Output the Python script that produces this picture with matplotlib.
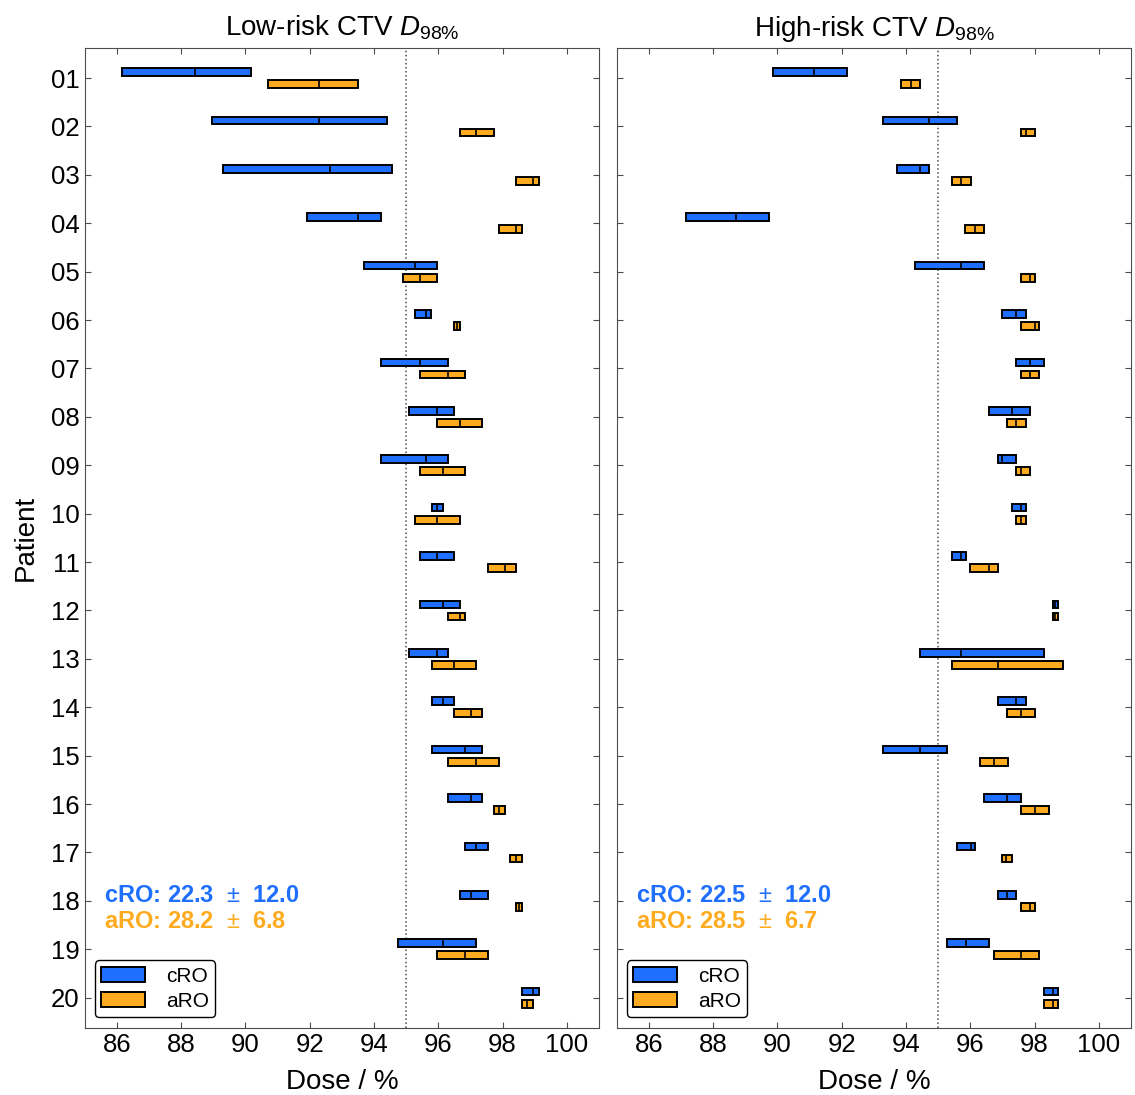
import numpy as np
import matplotlib
matplotlib.use('Agg')
import matplotlib.pyplot as plt
from matplotlib.patches import Patch

plt.rcParams['font.family'] = ['Liberation Sans', 'DejaVu Sans']
plt.rcParams['mathtext.fontset'] = 'custom'
plt.rcParams['mathtext.rm'] = 'Liberation Sans'
plt.rcParams['mathtext.it'] = 'Liberation Sans:italic'
plt.rcParams['mathtext.bf'] = 'Liberation Sans:bold'

patients = ['01', '02', '03', '04', '05', '06', '07', '08', '09', '10',
            '11', '12', '13', '14', '15', '16', '17', '18', '19', '20']

# low-risk CTV D98%: min / median / max
low_cro_min = [86.15, 88.95, 89.30, 91.92, 93.68, 95.27, 94.21, 95.08, 94.21, 95.79,
               95.43, 95.43, 95.08, 95.79, 95.79, 96.31, 96.84, 96.67, 94.74, 98.59]
low_cro_med = [88.42, 92.29, 92.63, 93.51, 95.27, 95.61, 95.43, 95.96, 95.61, 95.96,
               95.96, 96.14, 95.96, 96.14, 96.84, 97.02, 97.18, 97.02, 96.14, 98.94]
low_cro_max = [90.18, 94.39, 94.56, 94.21, 95.96, 95.78, 96.31, 96.49, 96.31, 96.14,
               96.49, 96.67, 96.31, 96.49, 97.37, 97.37, 97.54, 97.54, 97.18, 99.12]
low_aro_min = [90.70, 96.67, 98.42, 97.89, 94.91, 96.49, 95.43, 95.96, 95.43, 95.27,
               97.54, 96.31, 95.79, 96.49, 96.31, 97.72, 98.24, 98.42, 95.96, 98.59]
low_aro_med = [92.29, 97.18, 98.94, 98.43, 95.44, 96.58, 96.31, 96.67, 96.14, 95.96,
               98.06, 96.67, 96.49, 97.02, 97.18, 97.89, 98.42, 98.50, 96.84, 98.77]
low_aro_max = [93.51, 97.72, 99.12, 98.59, 95.96, 96.67, 96.84, 97.37, 96.84, 96.67,
               98.42, 96.84, 97.18, 97.37, 97.89, 98.06, 98.59, 98.59, 97.54, 98.94]

# high-risk CTV D98%: min / median / max
high_cro_min = [89.87, 93.29, 93.72, 87.15, 94.29, 97.00, 97.43, 96.57, 96.86, 97.29,
                95.43, 98.57, 94.44, 96.86, 93.29, 96.43, 95.58, 96.86, 95.29, 98.30]
high_cro_med = [91.14, 94.72, 94.44, 88.72, 95.72, 97.43, 97.86, 97.29, 97.00, 97.58,
                95.72, 98.65, 95.72, 97.43, 94.44, 97.15, 96.01, 97.15, 95.86, 98.58]
high_cro_max = [92.16, 95.58, 94.72, 89.73, 96.44, 97.72, 98.30, 97.86, 97.43, 97.72,
                95.86, 98.72, 98.30, 97.72, 95.29, 97.58, 96.15, 97.43, 96.58, 98.72]
high_aro_min = [93.86, 97.57, 95.43, 95.85, 97.57, 97.57, 97.57, 97.15, 97.43, 97.43,
                96.00, 98.57, 95.43, 97.15, 96.29, 97.58, 97.00, 97.58, 96.73, 98.30]
high_aro_med = [94.15, 97.72, 95.72, 96.15, 97.86, 98.01, 97.86, 97.43, 97.57, 97.58,
                96.57, 98.65, 96.86, 97.58, 96.73, 98.01, 97.10, 97.86, 97.58, 98.58]
high_aro_max = [94.44, 98.01, 96.02, 96.44, 98.01, 98.14, 98.14, 97.72, 97.86, 97.72,
                96.87, 98.72, 98.87, 98.01, 97.16, 98.44, 97.31, 98.01, 98.15, 98.72]

titles = ['Low-risk CTV $D_{\\mathrm{98\\%}}$', 'High-risk CTV $D_{\\mathrm{98\\%}}$']
stat_cro = ['cRO: 22.3  $\\pm$  12.0', 'cRO: 22.5  $\\pm$  12.0']
stat_aro = ['aRO: 28.2  $\\pm$  6.8', 'aRO: 28.5  $\\pm$  6.7']

blue = '#1f6fff'
orange = '#ffab1f'


def draw(ax, cmin, cmed, cmax, amin, amed, amax):
    y = np.arange(1, len(patients) + 1)
    h = 0.16
    off = 0.125
    cmin, cmed, cmax = map(np.array, (cmin, cmed, cmax))
    amin, amed, amax = map(np.array, (amin, amed, amax))
    ax.barh(y - off, cmax - cmin, left=cmin, height=h, color=blue,
            edgecolor='black', linewidth=1.4, zorder=3)
    ax.barh(y + off, amax - amin, left=amin, height=h, color=orange,
            edgecolor='black', linewidth=1.4, zorder=3)
    ax.vlines(cmed, y - off - h / 2, y - off + h / 2, color='black', lw=1.2, zorder=4)
    ax.vlines(amed, y + off - h / 2, y + off + h / 2, color='black', lw=1.2, zorder=4)
    ax.axvline(95, color='0.3', linestyle=':', lw=1.1, zorder=1)
    ax.set_xlim(85, 101)
    ax.set_ylim(20.62, 0.38)
    ax.set_yticks(y)
    ax.set_xticks(np.arange(86, 101, 2))
    ax.tick_params(direction='in', top=True, right=True, labelsize=18.5,
                   length=4, color='0.3')
    for s in ax.spines.values():
        s.set_color('0.3')
    ax.set_xlabel('Dose / %', fontsize=20, labelpad=9)


fig = plt.figure(figsize=(11.35, 10.95), dpi=100)
ax1 = fig.add_axes([0.0746, 0.0615, 0.4532, 0.8946])
ax2 = fig.add_axes([0.5433, 0.0615, 0.4532, 0.8946])

draw(ax1, low_cro_min, low_cro_med, low_cro_max, low_aro_min, low_aro_med, low_aro_max)
draw(ax2, high_cro_min, high_cro_med, high_cro_max, high_aro_min, high_aro_med, high_aro_max)

ax1.set_yticklabels(patients)
ax1.set_ylabel('Patient', fontsize=20, labelpad=9)
ax2.set_yticklabels([])

for i, ax in enumerate([ax1, ax2]):
    ax.set_title(titles[i], fontsize=20, pad=9)
    ax.text(0.038, 0.135, stat_cro[i], transform=ax.transAxes, color=blue,
            fontsize=17, fontweight='bold', va='center', ha='left')
    ax.text(0.038, 0.108, stat_aro[i], transform=ax.transAxes, color=orange,
            fontsize=17, fontweight='bold', va='center', ha='left')
    handles = [Patch(facecolor=blue, edgecolor='black', linewidth=1.4, label='cRO'),
               Patch(facecolor=orange, edgecolor='black', linewidth=1.4, label='aRO')]
    leg = ax.legend(handles=handles, loc='lower left', fontsize=15, frameon=True,
                    fancybox=True, edgecolor='black', framealpha=1,
                    handlelength=2.1, handleheight=0.7, borderpad=0.3,
                    labelspacing=0.3, handletextpad=1.0, borderaxespad=0.5)
    leg.get_frame().set_linewidth(1.0)

fig.savefig('out.png', dpi=100)
